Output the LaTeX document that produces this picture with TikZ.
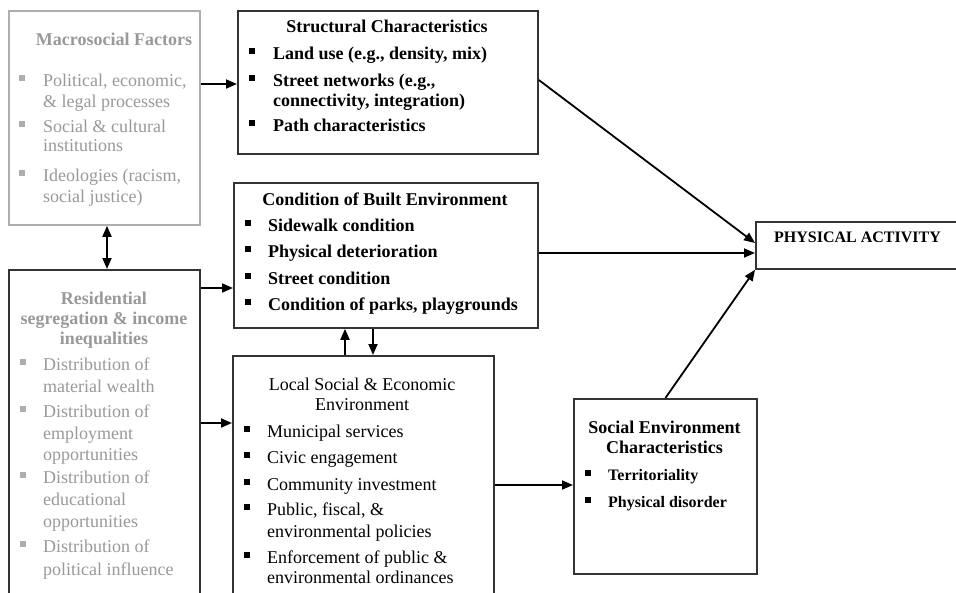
\documentclass[tikz,border=0pt]{standalone}
\usepackage{fontspec}
\setmainfont{Liberation Serif}
\usetikzlibrary{arrows.meta}
\definecolor{grayT}{HTML}{999999}
\definecolor{grayB}{HTML}{AEAEAE}
\definecolor{darkB}{HTML}{333333}
\tikzset{
  box/.style={draw=darkB, line width=1.8pt, rectangle, inner sep=0pt, anchor=north west},
  arr/.style={line width=1.8pt, -{Triangle[length=11pt,width=9pt]}},
  darr/.style={line width=1.8pt, {Triangle[length=11pt,width=9pt]}-{Triangle[length=11pt,width=9pt]}},
  txt/.style={anchor=base west, inner sep=0pt, font=\fontsize{18}{20}\selectfont},
  btxt/.style={txt, font=\fontsize{18}{20}\selectfont\bfseries},
  stxt/.style={txt, font=\fontsize{16}{18}\selectfont\bfseries},
  gtxt/.style={txt, text=grayT},
  ttl/.style={anchor=base, inner sep=0pt, font=\fontsize{18}{20}\selectfont\bfseries},
  rttl/.style={anchor=base, inner sep=0pt, font=\fontsize{18}{20}\selectfont},
  gttl/.style={ttl, text=grayT},
  bul/.style={rectangle, fill=black, minimum size=5.5pt, inner sep=0pt},
  gbul/.style={bul, fill=grayB},
}
\begin{document}
\begin{tikzpicture}[x=1pt,y=-1pt]
\useasboundingbox (0,0) rectangle (956,592);
\clip (0,0) rectangle (956,592);
% boxes
\node[box, draw=grayB, minimum width=191pt, minimum height=214pt] (macro) at (8,10) {};
\node[box, minimum width=191pt, minimum height=360pt] (resid) at (8,269) {};
\node[box, minimum width=300pt, minimum height=143pt] (struct) at (237,10) {};
\node[box, minimum width=304pt, minimum height=145pt] (cond) at (233,182) {};
\node[box, minimum width=261pt, minimum height=280pt] (local) at (232,355) {};
\node[box, minimum width=183pt, minimum height=175pt] (social) at (573,398) {};
\node[box, minimum width=240pt, minimum height=47pt] (pa) at (755,221) {};

% Macrosocial
\node[gttl] (m0) at (114,45) {Macrosocial Factors};
\node[gbul] (mb1) at (22,78) {};
\node[gtxt] (m1) at (43,86) {Political, economic,};
\node[gtxt] (m2) at (43,107) {\& legal processes};
\node[gbul] (mb2) at (22,124) {};
\node[gtxt] (m3) at (43,132) {Social \& cultural};
\node[gtxt] (m4) at (43,151) {institutions};
\node[gbul] (mb3) at (22,173) {};
\node[gtxt] (m5) at (43,181) {Ideologies (racism,};
\node[gtxt] (m6) at (43,202) {social justice)};

% Residential
\node[gttl] (r0a) at (104,304) {Residential};
\node[gttl] (r0b) at (104,324) {segregation \& income};
\node[gttl] (r0c) at (104,344) {inequalities};
\node[gbul] (rb1) at (23,362) {};
\node[gtxt] (r1) at (43,370) {Distribution of};
\node[gtxt] (r2) at (43,392) {material wealth};
\node[gbul] (rb2) at (23,409) {};
\node[gtxt] (r3) at (43,417) {Distribution of};
\node[gtxt] (r4) at (43,439) {employment};
\node[gtxt] (r5) at (43,460) {opportunities};
\node[gbul] (rb3) at (23,475) {};
\node[gtxt] (r6) at (43,483) {Distribution of};
\node[gtxt] (r7) at (43,505) {educational};
\node[gtxt] (r8) at (43,527) {opportunities};
\node[gbul] (rb4) at (23,544) {};
\node[gtxt] (r9) at (43,552) {Distribution of};
\node[gtxt] (r10) at (43,575) {political influence};

% Structural
\node[ttl] (s0) at (387,32) {Structural Characteristics};
\node[bul] (sb1) at (252,51) {};
\node[btxt] (s1) at (273,59) {Land use (e.g., density, mix)};
\node[bul] (sb2) at (252,78) {};
\node[btxt] (s2) at (273,86) {Street networks (e.g.,};
\node[btxt] (s3) at (273,106) {connectivity, integration)};
\node[bul] (sb3) at (252,123) {};
\node[btxt] (s4) at (273,131) {Path characteristics};

% Condition
\node[ttl] (c0) at (385,205) {Condition of Built Environment};
\node[bul] (cb1) at (248,223) {};
\node[btxt] (c1) at (268,231) {Sidewalk condition};
\node[bul] (cb2) at (248,249) {};
\node[btxt] (c2) at (268,257) {Physical deterioration};
\node[bul] (cb3) at (248,276) {};
\node[btxt] (c3) at (268,284) {Street condition};
\node[bul] (cb4) at (248,302) {};
\node[btxt] (c4) at (268,310) {Condition of parks, playgrounds};

% Local
\node[rttl] (l0a) at (362,390) {Local Social \& Economic};
\node[rttl] (l0b) at (362,410) {Environment};
\node[bul] (lb1) at (247,429) {};
\node[txt] (l1) at (267,437) {Municipal services};
\node[bul] (lb2) at (247,455) {};
\node[txt] (l2) at (267,463) {Civic engagement};
\node[bul] (lb3) at (247,482) {};
\node[txt] (l3) at (267,490) {Community investment};
\node[bul] (lb4) at (247,507) {};
\node[txt] (l4) at (267,515) {Public, fiscal, \&};
\node[txt] (l5) at (267,537) {environmental policies};
\node[bul] (lb5) at (247,555) {};
\node[txt] (l6) at (267,563) {Enforcement of public \&};
\node[txt] (l7) at (267,583) {environmental ordinances};

% Social
\node[ttl] (so0a) at (664.5,433) {Social Environment};
\node[ttl] (so0b) at (664.5,453) {Characteristics};
\node[bul] (sob1) at (588,473) {};
\node[stxt] (so1) at (608,480) {Territoriality};
\node[bul] (sob2) at (588,500) {};
\node[stxt] (so2) at (608,507) {Physical disorder};

% PA
\node[stxt] (pa0) at (774,242) {PHYSICAL ACTIVITY};

% connectors
\draw[arr] (macro.east |- 0,84) -- (struct.west |- 0,84);
\draw[darr] (107,0 |- macro.south) -- (107,0 |- resid.north);
\draw[arr] (resid.east |- 0,288) -- (cond.west |- 0,288);
\draw[arr] (resid.east |- 0,423) -- (local.west |- 0,423);
\draw[arr] (345,0 |- local.north) -- (345,0 |- cond.south);
\draw[arr] (373,0 |- cond.south) -- (373,0 |- local.north);
\draw[arr] (struct.east |- 0,80) -- (pa.west |- 0,243);
\draw[arr] (cond.east |- 0,253) -- (pa.west |- 0,253);
\draw[arr] (local.east |- 0,485) -- (social.west |- 0,485);
\draw[arr] (social.north) -- (pa.south west);
\end{tikzpicture}
\end{document}
